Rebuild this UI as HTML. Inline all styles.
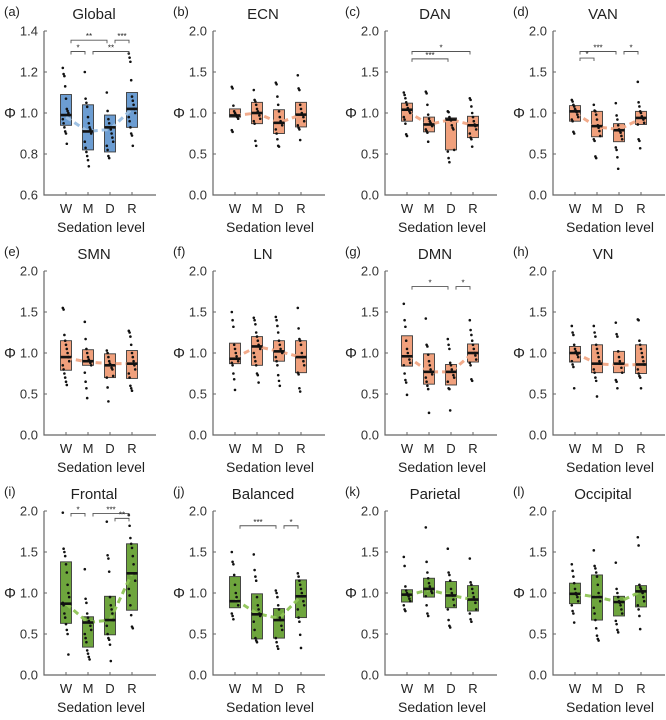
<!DOCTYPE html>
<html><head><meta charset="utf-8"><style>
html,body{margin:0;padding:0;background:#fff;}
svg{display:block;font-family:"Liberation Sans",sans-serif;}
</style></head><body>
<svg id="chart" width="666" height="720" viewBox="0 0 666 720" xmlns="http://www.w3.org/2000/svg"></svg>
<script>
const categories=['W','M','D','R'];
const panelLetters=['(a)','(b)','(c)','(d)','(e)','(f)','(g)','(h)','(i)','(j)','(k)','(l)'];
const panelTitles=['Global','ECN','DAN','VAN','SMN','LN','DMN','VN','Frontal','Balanced','Parietal','Occipital'];
const globalTicks=[0.6,0.8,1.0,1.2,1.4];
const stdTicks=[0.0,0.5,1.0,1.5,2.0];

const global_q1=[0.94,0.82,0.81,0.93], global_med=[0.99,0.91,0.93,1.02], global_q3=[1.09,1.04,0.99,1.10], global_line=[0.98,0.91,0.92,1.02];
const global_dots=[[1.22,1.19,1.18,1.13,1.07,1.02,1.01,1.00,0.99,0.97,0.95,0.93,0.91,0.90,0.85],[1.20,1.07,1.05,1.03,0.98,0.95,0.93,0.92,0.90,0.86,0.83,0.81,0.79,0.77,0.74],[1.10,1.01,0.97,0.95,0.93,0.92,0.90,0.88,0.86,0.84,0.82,0.79,0.78],[1.29,1.27,1.25,1.16,1.08,1.06,1.04,1.02,1.00,0.98,0.96,0.93,0.90,0.89,0.84]];
const global_brackets=[[0,2,1.355,'**'],[2,3,1.355,'***'],[0,1,1.30,'*'],[1,3,1.30,'**']];

const ecn_q1=[0.95,0.87,0.75,0.83], ecn_med=[0.97,1.00,0.88,0.98], ecn_q3=[1.05,1.13,1.04,1.13], ecn_line=[0.97,1.00,0.88,0.98];
const ecn_dots=[[1.32,1.30,1.09,1.02,1.00,0.98,0.96,0.95,0.93,0.79,0.77],[1.28,1.16,1.14,1.10,1.05,1.02,1.00,0.97,0.93,0.90,0.87,0.66,0.60],[1.37,1.35,1.20,1.10,1.02,0.95,0.90,0.88,0.85,0.80,0.75,0.68,0.60,0.59],[1.46,1.30,1.28,1.10,1.05,1.00,0.98,0.95,0.90,0.85,0.82,0.80,0.67]];
const ecn_brackets=[];

const dan_q1=[0.90,0.77,0.55,0.70], dan_med=[1.04,0.86,0.92,0.85], dan_q3=[1.12,0.95,0.94,0.96], dan_line=[1.02,0.86,0.92,0.85];
const dan_dots=[[1.25,1.22,1.18,1.13,1.10,1.06,1.04,1.02,1.00,0.95,0.92,0.87,0.74,0.72],[1.26,1.24,1.10,0.98,0.93,0.90,0.88,0.86,0.84,0.80,0.78,0.76,0.65],[1.02,1.01,0.95,0.93,0.91,0.85,0.82,0.80,0.55,0.53,0.45,0.40],[1.18,1.16,1.08,1.00,0.95,0.90,0.86,0.84,0.80,0.75,0.70,0.68,0.59]];
const dan_brackets=[[0,3,1.75,'*'],[0,2,1.66,'***']];

const van_q1=[0.90,0.71,0.65,0.86], van_med=[1.02,0.84,0.79,0.94], van_q3=[1.09,1.02,0.87,1.02], van_line=[1.00,0.83,0.80,0.93];
const van_dots=[[1.16,1.14,1.10,1.08,1.05,1.03,1.01,0.98,0.95,0.92,0.90,0.77,0.75],[1.10,1.03,1.02,0.98,0.92,0.85,0.82,0.78,0.72,0.68,0.66,0.47,0.45],[1.12,0.97,0.92,0.85,0.80,0.78,0.76,0.72,0.68,0.58,0.55,0.46,0.32],[1.38,1.13,1.08,1.02,1.00,0.96,0.94,0.92,0.88,0.86,0.68,0.66,0.57]];
const van_brackets=[[0,2,1.75,'***'],[2,3,1.75,'*'],[0,1,1.67,'*']];

const smn_q1=[0.79,0.85,0.70,0.69], smn_med=[0.95,0.90,0.85,0.87], smn_q3=[1.15,1.04,0.99,1.03], smn_line=[0.94,0.89,0.87,0.87];
const smn_dots=[[1.55,1.53,1.22,1.15,1.10,1.05,1.00,0.95,0.90,0.85,0.80,0.75,0.70,0.65,0.61],[1.38,1.17,1.05,1.00,0.95,0.92,0.90,0.88,0.85,0.76,0.65,0.57,0.45],[1.03,1.00,0.95,0.90,0.87,0.85,0.82,0.80,0.72,0.70,0.58,0.41],[1.27,1.25,1.20,1.10,1.00,0.95,0.90,0.85,0.80,0.75,0.70,0.60,0.57,0.54]];
const smn_brackets=[];

const ln_q1=[0.87,0.85,0.90,0.76], ln_med=[0.93,1.08,1.02,0.95], ln_q3=[1.12,1.20,1.15,1.15], ln_line=[0.94,1.08,1.02,0.95];
const ln_dots=[[1.50,1.40,1.32,1.10,1.05,1.00,0.96,0.93,0.90,0.88,0.85,0.75,0.68,0.55],[1.43,1.40,1.35,1.25,1.20,1.15,1.10,1.08,1.05,1.00,0.95,0.90,0.85,0.75,0.73,0.64],[1.44,1.40,1.33,1.25,1.15,1.10,1.05,1.02,1.00,0.95,0.90,0.85,0.73,0.66,0.60],[1.55,1.30,1.17,1.15,1.10,1.00,0.95,0.90,0.85,0.76,0.74,0.57,0.53]];
const ln_brackets=[];

const dmn_q1=[0.84,0.62,0.61,0.89], dmn_med=[0.96,0.77,0.77,1.00], dmn_q3=[1.21,0.99,0.86,1.11], dmn_line=[0.96,0.77,0.77,1.00];
const dmn_dots=[[1.60,1.40,1.32,1.15,1.05,1.00,0.96,0.92,0.88,0.85,0.75,0.67,0.64,0.49],[1.42,1.10,1.08,0.98,0.90,0.85,0.80,0.77,0.74,0.70,0.65,0.60,0.56,0.27],[1.17,1.10,1.05,0.88,0.85,0.80,0.77,0.73,0.70,0.65,0.57,0.56,0.30],[1.40,1.28,1.22,1.15,1.10,1.05,1.00,0.97,0.92,0.88,0.85,0.68,0.66]];
const dmn_brackets=[[0,2,1.81,'*'],[2,3,1.81,'*']];

const vn_q1=[0.89,0.76,0.76,0.75], vn_med=[1.00,0.87,0.87,0.86], vn_q3=[1.08,1.10,1.02,1.10], vn_line=[1.00,0.87,0.85,0.86];
const vn_dots=[[1.33,1.25,1.22,1.10,1.05,1.02,1.00,0.98,0.95,0.90,0.86,0.83,0.57],[1.33,1.25,1.20,1.10,1.05,1.00,0.95,0.90,0.87,0.80,0.76,0.70,0.66,0.47],[1.37,1.23,1.20,1.02,0.95,0.90,0.87,0.82,0.76,0.67,0.65,0.57],[1.41,1.40,1.15,1.10,1.05,1.00,0.95,0.90,0.86,0.80,0.75,0.72,0.70,0.57]];
const vn_brackets=[];

const frontal_q1=[0.63,0.34,0.49,0.79], frontal_med=[0.87,0.64,0.67,1.24], frontal_q3=[1.38,0.71,0.96,1.60], frontal_line=[0.87,0.64,0.67,1.24];
const frontal_dots=[[1.98,1.54,1.50,1.45,1.35,1.25,1.10,1.00,0.95,0.88,0.85,0.75,0.70,0.62,0.55,0.50,0.25],[1.29,0.93,0.88,0.75,0.70,0.66,0.64,0.60,0.55,0.50,0.45,0.40,0.30,0.26,0.22,0.19],[1.87,1.46,1.42,1.26,0.95,0.85,0.80,0.75,0.67,0.60,0.50,0.45,0.43,0.37,0.17],[1.95,1.82,1.67,1.60,1.55,1.45,1.35,1.24,1.15,1.05,0.97,0.85,0.73,0.59,0.57]];
const frontal_brackets=[[0,1,1.97,'*'],[1,3,1.97,'***'],[2,3,1.91,'**']];

const balanced_q1=[0.82,0.44,0.45,0.70], balanced_med=[0.90,0.74,0.67,0.96], balanced_q3=[1.20,0.99,0.81,1.16], balanced_line=[0.92,0.75,0.69,0.96];
const balanced_dots=[[1.50,1.38,1.35,1.22,1.10,1.00,0.95,0.90,0.85,0.75,0.72,0.68],[1.47,1.28,1.20,1.15,0.95,0.85,0.80,0.75,0.72,0.65,0.55,0.45,0.42,0.40],[1.03,1.00,0.95,0.85,0.80,0.70,0.67,0.60,0.55,0.45,0.40,0.35,0.32],[1.24,1.20,1.15,1.10,1.05,1.00,0.96,0.90,0.85,0.80,0.70,0.65,0.49,0.33]];
const balanced_brackets=[[0,2,1.82,'***'],[2,3,1.82,'*']];

const parietal_q1=[0.89,0.95,0.82,0.78], parietal_med=[0.98,1.05,0.97,0.92], parietal_q3=[1.04,1.18,1.14,1.09], parietal_line=[0.97,1.04,0.97,0.92];
const parietal_dots=[[1.44,1.33,1.08,1.03,1.00,0.98,0.96,0.93,0.90,0.85,0.80,0.78],[1.80,1.38,1.25,1.18,1.12,1.08,1.05,1.02,1.00,0.96,0.85,0.75,0.72],[1.54,1.25,1.22,1.15,1.05,1.00,0.97,0.92,0.85,0.80,0.67,0.60,0.58],[1.42,1.13,1.10,1.05,1.00,0.95,0.92,0.88,0.80,0.75,0.68,0.65]];
const parietal_brackets=[];

const occipital_q1=[0.87,0.67,0.72,0.83], occipital_med=[0.99,0.95,0.89,1.02], occipital_q3=[1.12,1.22,0.96,1.09], occipital_line=[0.99,0.95,0.89,1.02];
const occipital_dots=[[1.35,1.27,1.20,1.12,1.05,1.00,0.98,0.95,0.90,0.85,0.78,0.75,0.64],[1.52,1.33,1.30,1.25,1.20,1.10,1.00,0.95,0.90,0.82,0.75,0.67,0.57,0.48,0.44,0.42],[1.37,1.05,1.00,0.95,0.90,0.88,0.85,0.80,0.75,0.66,0.62,0.55,0.52],[1.68,1.58,1.10,1.07,1.05,1.02,1.00,0.95,0.90,0.85,0.80,0.72,0.56]];
const occipital_brackets=[];

const panels=[
 [global_q1,global_med,global_q3,global_line,global_dots,global_brackets,globalTicks,'blue'],
 [ecn_q1,ecn_med,ecn_q3,ecn_line,ecn_dots,ecn_brackets,stdTicks,'orange'],
 [dan_q1,dan_med,dan_q3,dan_line,dan_dots,dan_brackets,stdTicks,'orange'],
 [van_q1,van_med,van_q3,van_line,van_dots,van_brackets,stdTicks,'orange'],
 [smn_q1,smn_med,smn_q3,smn_line,smn_dots,smn_brackets,stdTicks,'orange'],
 [ln_q1,ln_med,ln_q3,ln_line,ln_dots,ln_brackets,stdTicks,'orange'],
 [dmn_q1,dmn_med,dmn_q3,dmn_line,dmn_dots,dmn_brackets,stdTicks,'orange'],
 [vn_q1,vn_med,vn_q3,vn_line,vn_dots,vn_brackets,stdTicks,'orange'],
 [frontal_q1,frontal_med,frontal_q3,frontal_line,frontal_dots,frontal_brackets,stdTicks,'green'],
 [balanced_q1,balanced_med,balanced_q3,balanced_line,balanced_dots,balanced_brackets,stdTicks,'green'],
 [parietal_q1,parietal_med,parietal_q3,parietal_line,parietal_dots,parietal_brackets,stdTicks,'green'],
 [occipital_q1,occipital_med,occipital_q3,occipital_line,occipital_dots,occipital_brackets,stdTicks,'green']
];
const palette={blue:['#6c9dd2','#9bbfe3'],orange:['#f0a07c','#f1a685'],green:['#6ea53d','#8fc456']};
const colAxis=[44,213,385,553];
const rowTop=[0,240,480];

const NS='http://www.w3.org/2000/svg';
const svg=document.getElementById('chart');
function mk(tag,attrs,parent,text){
  const e=document.createElementNS(NS,tag);
  for(const k in attrs) e.setAttribute(k,attrs[k]);
  if(text!==undefined) e.textContent=text;
  parent.appendChild(e);
  return e;
}
panels.forEach((p,pi)=>{
  const [q1,med,q3,line,dots,brs,ticks,col]=p;
  const ax=colAxis[pi%4], top=rowTop[Math.floor(pi/4)];
  const yT=top+31, yB=top+195;
  const vmin=ticks[0], vmax=ticks[ticks.length-1];
  const y=v=>yB-(v-vmin)/(vmax-vmin)*(yB-yT);
  const x=i=>ax+22*(i+1);
  const g=mk('g',{},svg);
  
  
  const lt=mk('text',{x:ax-40,y:top+16,'font-size':13,fill:'#222'},g,panelLetters[pi]);
  
  
  const tt=mk('text',{x:ax+50,y:top+19,'font-size':15,fill:'#222','text-anchor':'middle'},g,panelTitles[pi]);
  
  
  const axes=mk('path',{d:`M${ax},${yT}V${yB}H${ax+112}`,stroke:'#666',fill:'none','stroke-width':1.2},g);
  
  
  ticks.forEach(t=>{
    const tl=mk('text',{x:ax-6,y:y(t)+4.5,'font-size':13,fill:'#333','text-anchor':'end'},g,t.toFixed(1));
    
    
    mk('line',{x1:ax,x2:ax+3,y1:y(t),y2:y(t),stroke:'#666','stroke-width':1},g);
  });
  const yl=mk('text',{x:ax-34,y:(yT+yB)/2+5,'font-size':15,fill:'#222','text-anchor':'middle'},g,'Φ');
  
  
  categories.forEach((c,i)=>{
    mk('line',{x1:x(i),x2:x(i),y1:yB,y2:yB-3,stroke:'#666','stroke-width':1},g);
    const cl=mk('text',{x:x(i),y:top+213,'font-size':13,fill:'#222','text-anchor':'middle'},g,c);
    
    
  });
  const xt=mk('text',{x:ax+57,y:top+232,'font-size':14,fill:'#222','text-anchor':'middle'},g,'Sedation level');
  
  
  const [fill,lc]=palette[col];
  categories.forEach((c,i)=>{
    const b=mk('rect',{x:x(i)-5.5,y:y(q3[i]),width:11,height:y(q1[i])-y(q3[i]),fill:fill,stroke:'#3a3a3a','stroke-width':0.9},g);
    
    
  });
  const pts=line.map((v,i)=>x(i)+','+y(v)).join(' ');
  const pl=mk('polyline',{points:pts,fill:'none',stroke:lc,'stroke-width':3,'stroke-dasharray':'6,4',opacity:0.95},g);
  
  
  categories.forEach((c,i)=>{
    const m=mk('line',{x1:x(i)-5.5,x2:x(i)+5.5,y1:y(med[i]),y2:y(med[i]),stroke:'#111','stroke-width':2.6},g);
    
    
    dots[i].forEach((v,k)=>{
      const jx=((k*37)%9-4)*0.8;
      const d=mk('circle',{cx:x(i)+jx,cy:y(v),r:1.3,fill:'#111'},g);
      
      
    });
  });
  brs.forEach(br=>{
    const [i,j,v,lab]=br;
    const x1=x(i)+5,x2=x(j)-3,yy=y(v);
    const bp=mk('path',{d:`M${x1},${yy+3}V${yy}H${x2}V${yy+3}`,fill:'none',stroke:'#555','stroke-width':0.9},g);
    
    
    const bl=mk('text',{x:(x1+x2)/2,y:yy-1,'font-size':8,fill:'#222','text-anchor':'middle'},g,lab);
    
    
  });
});
</script>
</body></html>
